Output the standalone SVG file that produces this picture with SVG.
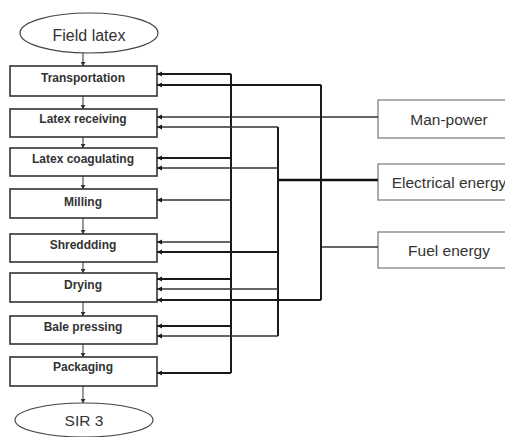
<svg xmlns="http://www.w3.org/2000/svg" width="505" height="437" viewBox="0 0 505 437">
<defs>
<marker id="ah" markerWidth="6" markerHeight="6" refX="5" refY="3" orient="auto" markerUnits="userSpaceOnUse">
<path d="M0,0.5 L5,3 L0,5.5 Z" fill="#1a1a1a"/>
</marker>
<marker id="dn" markerWidth="5" markerHeight="5" refX="4" refY="2.5" orient="auto" markerUnits="userSpaceOnUse">
<path d="M0,0 L4,2.5 L0,5 Z" fill="#333"/>
</marker>
</defs>
<style>
.step rect{fill:#fff;stroke:#333;stroke-width:1.6}
.step text{font-family:"Liberation Sans",Arial,sans-serif;font-weight:bold;font-size:12px;fill:#333;text-anchor:middle}
.term ellipse{fill:#fff;stroke:#444;stroke-width:1.2}
.term text{font-family:"Liberation Sans",Arial,sans-serif;font-size:16px;fill:#333;text-anchor:middle}
.res rect{fill:#fff;stroke:#777;stroke-width:1.2}
.res text{font-family:"Liberation Sans",Arial,sans-serif;font-size:15.5px;fill:#333;text-anchor:middle}
.c{fill:none;stroke:#1a1a1a;stroke-width:2}
.ct{fill:none;stroke:#333;stroke-width:1.3}
.ce{fill:none;stroke:#111;stroke-width:2.6}
.a{marker-end:url(#ah)}
.v{fill:none;stroke:#333;stroke-width:1;marker-end:url(#dn)}
</style>
<g id="field-latex" class="term"><ellipse cx="89" cy="33" rx="69" ry="20"/><text x="89" y="40.5">Field latex</text></g>
<g id="transportation" class="step"><rect x="10" y="66" width="147" height="30"/><text x="83" y="82">Transportation</text></g>
<g id="latex-receiving" class="step"><rect x="10" y="109" width="147" height="28"/><text x="83" y="123">Latex receiving</text></g>
<g id="latex-coagulating" class="step"><rect x="10" y="148" width="147" height="28"/><text x="83" y="163">Latex coagulating</text></g>
<g id="milling" class="step"><rect x="10" y="189" width="147" height="29"/><text x="83" y="206">Milling</text></g>
<g id="shreddding" class="step"><rect x="10" y="234" width="147" height="28"/><text x="83" y="249">Shreddding</text></g>
<g id="drying" class="step"><rect x="10" y="273" width="147" height="29"/><text x="83" y="289">Drying</text></g>
<g id="bale-pressing" class="step"><rect x="10" y="316" width="147" height="28"/><text x="83" y="331">Bale pressing</text></g>
<g id="packaging" class="step"><rect x="10" y="357" width="147" height="29"/><text x="83" y="371">Packaging</text></g>
<g id="sir3" class="term"><ellipse cx="84" cy="420" rx="69" ry="17"/><text x="84" y="425.5" style="font-size:15.5px">SIR 3</text></g>
<g id="man-power" class="res"><rect x="378" y="100" width="140" height="38"/><text x="449" y="125">Man-power</text></g>
<g id="electrical-energy" class="res"><rect x="378" y="164" width="140" height="36"/><text x="449" y="188">Electrical energy</text></g>
<g id="fuel-energy" class="res"><rect x="378" y="232" width="140" height="36"/><text x="449" y="256">Fuel energy</text></g>
<g id="connectors">
<path class="v" d="M83,53 V66"/>
<path class="v" d="M83,96 V109"/>
<path class="v" d="M83,137 V148"/>
<path class="v" d="M83,176 V189"/>
<path class="v" d="M83,218 V234"/>
<path class="v" d="M83,262 V273"/>
<path class="v" d="M83,302 V316"/>
<path class="v" d="M83,344 V357"/>
<path class="v" d="M83,386 V403"/>
<path class="ct" d="M378,117 H231"/>
<path class="c" d="M231,74 V373"/>
<path class="c a" d="M231,74 H157"/>
<path class="ct a" d="M231,117 H157"/>
<path class="c a" d="M231,158 H157"/>
<path class="ct a" d="M231,200 H157"/>
<path class="ct a" d="M231,242 H157"/>
<path class="c a" d="M231,279 H157"/>
<path class="c a" d="M231,326 H157"/>
<path class="c a" d="M231,373 H157"/>
<path class="ce" d="M378,180 H278"/>
<path class="c" d="M278,127 V336"/>
<path class="ct a" d="M278,127 H157"/>
<path class="ct a" d="M278,168 H157"/>
<path class="c a" d="M278,252 H157"/>
<path class="ct a" d="M278,289 H157"/>
<path class="ct a" d="M278,336 H157"/>
<path class="ct" d="M378,247 H321"/>
<path class="c" d="M321,85 V300"/>
<path class="c a" d="M321,85 H157"/>
<path class="c a" d="M321,300 H157"/>
</g>
</svg>
